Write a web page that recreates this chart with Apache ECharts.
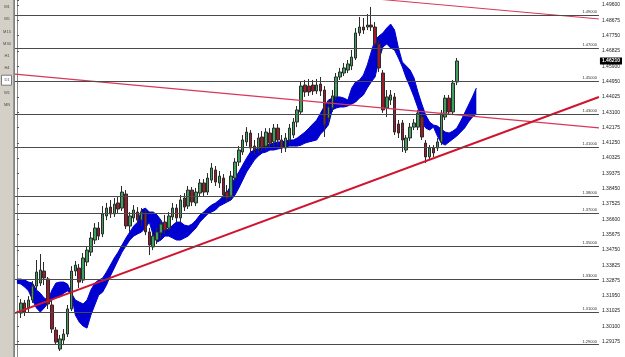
<!DOCTYPE html>
<html>
<head>
<meta charset="utf-8">
<script src="https://cdn.jsdelivr.net/npm/echarts@6/dist/echarts.min.js"></script>
<style>
  html, body { margin: 0; padding: 0; background: #fff; }
  #chart { width: 625px; height: 357px; }
</style>
</head>
<body>
<div id="chart"></div>
<script>
// EURUSD D1 — candles, cloud band, trendlines and pivot levels (MT4 style)

const TIMEFRAMES = ['M1', 'M5', 'M15', 'M30', 'H1', 'H4', 'D1', 'W1', 'MN'];
const ACTIVE_TF = 'D1';

// right price scale, top to bottom
const TICK_LABELS = ['1.49600', '1.48675', '1.47750', '1.46825', '1.45900', '1.44950', '1.44025',
  '1.43100', '1.42175', '1.41250', '1.40325', '1.39375', '1.38450', '1.37525', '1.36600',
  '1.35675', '1.34750', '1.33825', '1.32875', '1.31950', '1.31025', '1.30100', '1.29175'];

// horizontal levels
const PIVOT_LEVELS = [1.48745, 1.46862, 1.44982, 1.43100, 1.40771, 1.38449, 1.36566,
  1.34685, 1.32805, 1.30926, 1.28603];

// daily bars: [open, close, low, high]
const CANDLES = [
  [1.3092, 1.3153, 1.3062, 1.3177], [1.3153, 1.3098, 1.3074, 1.3171], [1.3123, 1.3171, 1.3098, 1.3195],
  [1.3171, 1.3256, 1.3153, 1.3286], [1.3256, 1.3341, 1.3232, 1.3414], [1.3274, 1.3353, 1.3256, 1.3450],
  [1.3347, 1.3305, 1.3262, 1.3402], [1.3299, 1.3147, 1.3117, 1.3311], [1.3141, 1.2995, 1.2971, 1.3171],
  [1.2989, 1.2916, 1.2898, 1.3007], [1.2874, 1.2935, 1.2862, 1.2959], [1.2928, 1.2965, 1.2898, 1.2995],
  [1.2965, 1.3117, 1.2947, 1.3141], [1.3117, 1.3347, 1.3104, 1.3377], [1.3347, 1.3383, 1.3317, 1.3408],
  [1.3365, 1.3280, 1.3244, 1.3390], [1.3292, 1.3426, 1.3274, 1.3456], [1.3402, 1.3474, 1.3377, 1.3499],
  [1.3462, 1.3547, 1.3438, 1.3584], [1.3535, 1.3608, 1.3511, 1.3638], [1.3608, 1.3559, 1.3535, 1.3644],
  [1.3572, 1.3693, 1.3553, 1.3741], [1.3681, 1.3729, 1.3656, 1.3760], [1.3735, 1.3693, 1.3669, 1.3778],
  [1.3693, 1.3753, 1.3675, 1.3790], [1.3760, 1.3723, 1.3693, 1.3802], [1.3729, 1.3826, 1.3711, 1.3863],
  [1.3814, 1.3620, 1.3602, 1.3838], [1.3620, 1.3681, 1.3584, 1.3705], [1.3669, 1.3717, 1.3644, 1.3747],
  [1.3705, 1.3656, 1.3632, 1.3735], [1.3656, 1.3705, 1.3620, 1.3729], [1.3699, 1.3584, 1.3565, 1.3717],
  [1.3584, 1.3505, 1.3444, 1.3608], [1.3493, 1.3559, 1.3474, 1.3584], [1.3535, 1.3584, 1.3511, 1.3608],
  [1.3578, 1.3632, 1.3547, 1.3656], [1.3644, 1.3596, 1.3572, 1.3687], [1.3608, 1.3681, 1.3590, 1.3705],
  [1.3675, 1.3729, 1.3656, 1.3760], [1.3729, 1.3669, 1.3644, 1.3753], [1.3669, 1.3778, 1.3644, 1.3808],
  [1.3790, 1.3735, 1.3711, 1.3820], [1.3741, 1.3838, 1.3723, 1.3863], [1.3838, 1.3766, 1.3741, 1.3857],
  [1.3760, 1.3826, 1.3741, 1.3851], [1.3820, 1.3881, 1.3796, 1.3905], [1.3881, 1.3826, 1.3802, 1.3905],
  [1.3826, 1.3911, 1.3808, 1.3941], [1.3899, 1.3972, 1.3881, 1.4002], [1.3960, 1.3887, 1.3863, 1.3984],
  [1.3881, 1.3923, 1.3851, 1.3954], [1.3911, 1.3808, 1.3790, 1.3935], [1.3826, 1.3790, 1.3766, 1.3869],
  [1.3802, 1.3923, 1.3784, 1.3954], [1.3911, 1.4008, 1.3893, 1.4032], [1.4008, 1.4081, 1.3984, 1.4105],
  [1.4069, 1.4142, 1.4051, 1.4172], [1.4130, 1.4190, 1.4105, 1.4220], [1.4184, 1.4093, 1.4069, 1.4202],
  [1.4105, 1.4081, 1.4051, 1.4142], [1.4087, 1.4154, 1.4063, 1.4184], [1.4160, 1.4099, 1.4075, 1.4196],
  [1.4105, 1.4190, 1.4081, 1.4214], [1.4184, 1.4123, 1.4099, 1.4214], [1.4130, 1.4214, 1.4105, 1.4239],
  [1.4214, 1.4142, 1.4111, 1.4239], [1.4142, 1.4093, 1.4063, 1.4172], [1.4093, 1.4154, 1.4069, 1.4184],
  [1.4142, 1.4214, 1.4123, 1.4239], [1.4172, 1.4251, 1.4154, 1.4275], [1.4251, 1.4324, 1.4220, 1.4348],
  [1.4312, 1.4469, 1.4300, 1.4494], [1.4475, 1.4433, 1.4403, 1.4506], [1.4469, 1.4433, 1.4409, 1.4512],
  [1.4475, 1.4439, 1.4415, 1.4506], [1.4439, 1.4475, 1.4421, 1.4512], [1.4481, 1.4439, 1.4409, 1.4524],
  [1.4445, 1.4233, 1.4160, 1.4469], [1.4275, 1.4342, 1.4245, 1.4384], [1.4336, 1.4409, 1.4312, 1.4445],
  [1.4403, 1.4524, 1.4384, 1.4548], [1.4524, 1.4554, 1.4506, 1.4579], [1.4548, 1.4579, 1.4530, 1.4609],
  [1.4566, 1.4603, 1.4548, 1.4627], [1.4591, 1.4645, 1.4566, 1.4688], [1.4639, 1.4791, 1.4627, 1.4821],
  [1.4791, 1.4827, 1.4773, 1.4888], [1.4827, 1.4809, 1.4785, 1.4882], [1.4827, 1.4839, 1.4809, 1.4906],
  [1.4839, 1.4827, 1.4803, 1.4949], [1.4827, 1.4724, 1.4706, 1.4857], [1.4724, 1.4579, 1.4554, 1.4748],
  [1.4548, 1.4324, 1.4306, 1.4566], [1.4336, 1.4403, 1.4281, 1.4445], [1.4384, 1.4415, 1.4354, 1.4445],
  [1.4403, 1.4190, 1.4172, 1.4427], [1.4239, 1.4184, 1.4154, 1.4263], [1.4245, 1.4142, 1.4069, 1.4263],
  [1.4081, 1.4154, 1.4063, 1.4172], [1.4154, 1.4220, 1.4136, 1.4245], [1.4220, 1.4245, 1.4202, 1.4269],
  [1.4220, 1.4305, 1.4202, 1.4324], [1.4281, 1.4160, 1.4142, 1.4305], [1.4123, 1.4039, 1.4002, 1.4142],
  [1.4039, 1.4093, 1.4020, 1.4111], [1.4093, 1.4063, 1.4039, 1.4111], [1.4093, 1.4130, 1.4075, 1.4154],
  [1.4130, 1.4305, 1.4111, 1.4324], [1.4281, 1.4396, 1.4263, 1.4415], [1.4396, 1.4312, 1.4293, 1.4415],
  [1.4312, 1.4487, 1.4293, 1.4506], [1.4494, 1.4621, 1.4475, 1.4639]
];

// cloud boundaries (start one bar before the first candle, run a few bars past the last)
const SPAN_A = [1.3298,
  1.3298, 1.3292, 1.3280, 1.3274, 1.3232, 1.3213, 1.3183, 1.3171, 1.3232, 1.3274,
  1.3280, 1.3280, 1.3268, 1.3213, 1.3171, 1.3159, 1.3147, 1.3171, 1.3232, 1.3274,
  1.3292, 1.3304, 1.3341, 1.3383, 1.3426, 1.3462, 1.3505, 1.3547, 1.3584, 1.3620,
  1.3644, 1.3717, 1.3729, 1.3705, 1.3705, 1.3687, 1.3656, 1.3608, 1.3596, 1.3626,
  1.3644, 1.3644, 1.3626, 1.3620, 1.3632, 1.3656, 1.3687, 1.3705, 1.3729, 1.3747,
  1.3760, 1.3778, 1.3802, 1.3826, 1.3869, 1.3911, 1.3948, 1.3990, 1.4032, 1.4069,
  1.4081, 1.4093, 1.4105, 1.4111, 1.4117, 1.4123, 1.4130, 1.4130, 1.4136, 1.4142,
  1.4142, 1.4154, 1.4172, 1.4190, 1.4214, 1.4239, 1.4263, 1.4305, 1.4348, 1.4384,
  1.4396, 1.4403, 1.4403, 1.4396, 1.4384, 1.4457, 1.4494, 1.4506, 1.4536, 1.4597,
  1.4676, 1.4748, 1.4773, 1.4791, 1.4821, 1.4845, 1.4809, 1.4700, 1.4615, 1.4591,
  1.4566, 1.4518, 1.4433, 1.4360, 1.4293, 1.4251, 1.4233, 1.4227, 1.4208, 1.4190,
  1.4184, 1.4196, 1.4214, 1.4257, 1.4305, 1.4354, 1.4403, 1.4457];
const SPAN_B = [1.3274,
  1.3268, 1.3250, 1.3226, 1.3171, 1.3123, 1.3098, 1.3123, 1.3153, 1.3171, 1.3189,
  1.3189, 1.3213, 1.3226, 1.3207, 1.3080, 1.3038, 1.3013, 1.3001, 1.3080, 1.3141,
  1.3201, 1.3219, 1.3262, 1.3317, 1.3365, 1.3414, 1.3462, 1.3499, 1.3535, 1.3559,
  1.3572, 1.3584, 1.3608, 1.3644, 1.3565, 1.3523, 1.3535, 1.3559, 1.3559, 1.3547,
  1.3535, 1.3535, 1.3547, 1.3559, 1.3584, 1.3608, 1.3644, 1.3669, 1.3693, 1.3705,
  1.3717, 1.3741, 1.3753, 1.3766, 1.3778, 1.3808, 1.3851, 1.3899, 1.3948, 1.3984,
  1.4020, 1.4045, 1.4063, 1.4069, 1.4081, 1.4081, 1.4087, 1.4093, 1.4099, 1.4105,
  1.4105, 1.4105, 1.4111, 1.4123, 1.4130, 1.4136, 1.4142, 1.4178, 1.4202, 1.4233,
  1.4324, 1.4336, 1.4342, 1.4342, 1.4348, 1.4360, 1.4372, 1.4396, 1.4415, 1.4457,
  1.4494, 1.4524, 1.4627, 1.4706, 1.4724, 1.4700, 1.4688, 1.4639, 1.4585, 1.4518,
  1.4463, 1.4403, 1.4336, 1.4251, 1.4214, 1.4202, 1.4220, 1.4166, 1.4123, 1.4111,
  1.4130, 1.4148, 1.4166, 1.4190, 1.4214, 1.4251, 1.4281, 1.4299];

// trendlines: [barFrom, priceFrom, barTo, priceTo]
const TRENDLINES = [
  [90, 1.5002, 149.5, 1.4876],
  [-0.5, 1.4542, 149.5, 1.4215],
  [-0.5, 1.3092, 149.5, 1.4403]
];
const TREND_STYLES = [
  { color: '#d8375a', width: 1 },
  { color: '#d8375a', width: 1.3 },
  { color: '#d0142e', width: 2 }
];

const N_SLOTS = 150;
const CANDLE_OFFSET = 1;
const CLOUD_OFFSET = 0;
const Y_MIN = 1.28256, Y_MAX = 1.4991, Y_STEP = 0.00928;

const slots = Array.from({ length: N_SLOTS }, (_, i) => String(i));
function place(arr, offset, empty) {
  const out = Array.from({ length: N_SLOTS }, () => empty);
  arr.forEach((v, k) => { out[k + offset] = v; });
  return out;
}
const candleData = place(CANDLES, CANDLE_OFFSET, ['-', '-', '-', '-']);
const cloudLow = place(SPAN_A.map((a, k) => Math.min(a, SPAN_B[k])), CLOUD_OFFSET, '-');
const cloudGap = place(SPAN_A.map((a, k) => Math.abs(a - SPAN_B[k])), CLOUD_OFFSET, '-');
const lastClose = CANDLES[CANDLES.length - 1][1];

const CLOUD_BLUE = '#0000d0';
const FONT = 'Liberation Sans';

const chart = echarts.init(document.getElementById('chart'), null, { renderer: 'canvas' });

const tfGraphics = [
  { type: 'rect', shape: { x: 0, y: 0, width: 13, height: 357 }, style: { fill: '#d4d0c8' }, z: 10 },
  { type: 'line', shape: { x1: 13.5, y1: 0, x2: 13.5, y2: 357 }, style: { stroke: '#9a978f', lineWidth: 1 }, z: 10 },
  { type: 'line', shape: { x1: 14.5, y1: 0, x2: 14.5, y2: 357 }, style: { stroke: '#808080', lineWidth: 1 }, z: 10 }
];
TIMEFRAMES.forEach((tf, k) => {
  const cy = 7 + k * 12.2;
  if (tf === ACTIVE_TF) {
    tfGraphics.push({ type: 'rect', shape: { x: 1.5, y: cy - 5, width: 10, height: 10 },
      style: { fill: '#ffffff', stroke: '#7a7a7a', lineWidth: 1 }, z: 11 });
  }
  tfGraphics.push({ type: 'text', x: 7, y: cy, z: 12,
    style: { text: tf, fill: '#4a4a4a', font: '4px ' + FONT, align: 'center', verticalAlign: 'middle' } });
});

const option = {
  animation: false,
  backgroundColor: '#ffffff',
  grid: { left: 15, right: 19, top: 0, bottom: 0, containLabel: false },
  xAxis: [
    { type: 'category', data: slots, boundaryGap: true, show: false },
    { type: 'value', min: -0.5, max: N_SLOTS - 0.5, show: false }
  ],
  yAxis: [
    {
      type: 'value', position: 'right', min: Y_MIN, max: Y_MAX, interval: Y_STEP,
      axisLine: { show: true, lineStyle: { color: '#8a8a8a', width: 1 } },
      axisTick: { show: true, length: 2, lineStyle: { color: '#555' } },
      splitLine: { show: false },
      axisLabel: {
        fontSize: 5, fontFamily: FONT, color: '#202020', margin: 3,
        formatter: (v) => {
          const k = Math.round((v - Y_MIN) / Y_STEP);
          if (Math.abs(v - (Y_MIN + k * Y_STEP)) > 1e-6 || k < 1) return '';
          return TICK_LABELS[TICK_LABELS.length - k] || '';
        }
      }
    },
    {
      // current price tag on the scale
      type: 'value', position: 'right', min: Y_MIN, max: Y_MAX,
      axisLine: { show: false }, axisTick: { show: false }, splitLine: { show: false },
      axisLabel: {
        customValues: [lastClose], margin: 1, fontSize: 5, fontFamily: FONT, fontWeight: 'bold',
        color: '#ffffff', backgroundColor: '#000000', padding: [1, 2, 1, 2],
        formatter: (v) => v.toFixed(5)
      }
    }
  ],
  graphic: tfGraphics,
  series: [
    {
      name: 'levels', type: 'line', data: [], z: 1, silent: true,
      markLine: {
        silent: true, symbol: 'none', animation: false,
        lineStyle: { color: '#4a4a4a', width: 1, type: 'solid' },
        label: {
          position: 'insideEndTop', distance: [2, 1], fontSize: 4, fontFamily: FONT, color: '#303030',
          formatter: (p) => p.value.toFixed(5)
        },
        data: PIVOT_LEVELS.map((v) => ({ yAxis: v }))
      }
    },
    {
      name: 'cloudBase', type: 'line', stack: 'cloud', data: cloudLow, z: 2,
      symbol: 'none', silent: true, lineStyle: { color: CLOUD_BLUE, width: 1 }
    },
    {
      name: 'cloud', type: 'line', stack: 'cloud', data: cloudGap, z: 2,
      symbol: 'none', silent: true, lineStyle: { color: CLOUD_BLUE, width: 1 },
      areaStyle: { color: CLOUD_BLUE, opacity: 1 }
    },
    {
      name: 'EURUSD', type: 'candlestick', data: candleData, z: 3, barWidth: 3,
      itemStyle: {
        color: '#3f9f5d', color0: '#a3192b',
        borderColor: '#2b2b2b', borderColor0: '#2b2b2b', borderWidth: 1
      }
    },
    ...TRENDLINES.map((t, k) => ({
      name: 'trend' + k, type: 'line', xAxisIndex: 1, z: 4, silent: true, symbol: 'none',
      data: [[t[0], t[1]], [t[2], t[3]]],
      lineStyle: { color: TREND_STYLES[k].color, width: TREND_STYLES[k].width }
    }))
  ]
};

chart.setOption(option);
</script>
</body>
</html>
